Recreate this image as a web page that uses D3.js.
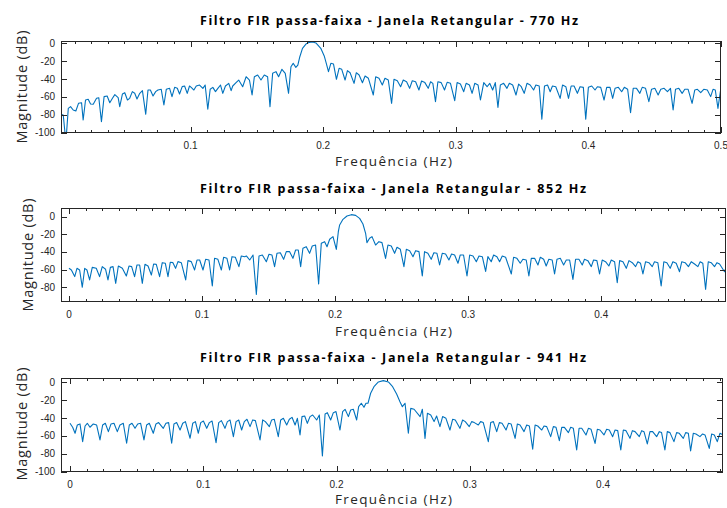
<!DOCTYPE html>
<html><head><meta charset="utf-8">
<script src="https://cdn.jsdelivr.net/npm/d3@7"></script>
<style>body{margin:0;background:#fff}svg{display:block}</style>
</head><body>
<script>
// Frequency response magnitude (dB) of three FIR band-pass filters (rectangular window), Fs = 4000 Hz, normalised frequency
const freq770 = [0.0023,0.0040,0.0053,0.0065,0.0078,0.0095,0.0115,0.0135,0.0155,0.0178,0.0190,0.0208,0.0228,0.0246,0.0266,0.0291,0.0308,0.0328,0.0348,0.0371,0.0391,0.0411,0.0429,0.0454,0.0466,0.0486,0.0504,0.0524,0.0541,0.0561,0.0579,0.0596,0.0617,0.0637,0.0662,0.0679,0.0697,0.0717,0.0737,0.0754,0.0779,0.0799,0.0817,0.0842,0.0860,0.0880,0.0900,0.0917,0.0937,0.0955,0.0975,0.0992,0.1005,0.1025,0.1043,0.1068,0.1093,0.1110,0.1130,0.1148,0.1168,0.1188,0.1206,0.1226,0.1243,0.1263,0.1288,0.1306,0.1318,0.1343,0.1363,
0.1393,0.1419,0.1444,0.1464,0.1481,0.1506,0.1531,0.1556,0.1581,0.1599,0.1619,0.1644,0.1664,0.1689,0.1714,0.1739,0.1757,0.1774,0.1794,0.1809,0.1824,0.1844,0.1870,0.1895,0.1920,0.1945,0.1982,0.2008,0.2023,0.2040,0.2058,0.2078,0.2100,0.2120,0.2140,0.2165,0.2183,0.2203,0.2233,0.2250,0.2271,0.2296,0.2316,0.2341,0.2378,0.2396,0.2421,0.2446,0.2466,0.2491,0.2516,0.2534,0.2559,0.2584,0.2604,0.2629,0.2652,0.2672,0.2697,0.2722,0.2742,0.2767,0.2792,0.2810,0.2827,0.2847,0.2865,0.2890,0.2915,0.2935,0.2960,0.2992,0.3010,0.3035,0.3060,0.3078,0.3103,0.3123,0.3143,0.3168,0.3186,0.3211,0.3236,
0.3256,0.3278,0.3298,0.3318,0.3336,0.3361,0.3386,0.3404,0.3429,0.3454,0.3474,0.3494,0.3516,0.3537,0.3561,0.3587,0.3604,0.3629,0.3649,0.3669,0.3692,0.3712,0.3729,0.3754,0.3787,0.3805,0.3830,0.3850,0.3870,0.3892,0.3917,0.3937,0.3962,0.3980,0.4000,0.4025,0.4050,0.4068,0.4093,0.4118,0.4138,0.4163,0.4183,0.4201,0.4226,0.4251,0.4271,0.4296,0.4318,0.4338,0.4363,0.4388,0.4406,0.4431,0.4456,0.4476,0.4501,0.4526,0.4546,0.4571,0.4596,0.4619,0.4639,0.4657,0.4682,0.4707,0.4727,0.4752,0.4782,0.4802,0.4822,0.4847,0.4870,0.4897,0.4922,0.4940,0.4957,0.4977,0.4997];
const mag770 = [-79.4,-80.2,-100,-100,-72.7,-70.8,-74.6,-75.7,-67.1,-66.4,-85.8,-63.4,-62.6,-67.9,-68.2,-61.5,-60.8,-87.6,-59.6,-58.9,-66.4,-61.5,-57.4,-60.8,-70.8,-56.7,-55.2,-63.4,-61.5,-54.0,-55.9,-62.3,-55.9,-52.9,-79.4,-52.2,-52.2,-58.9,-54.0,-52.2,-51.4,-69.0,-51.4,-50.3,-59.6,-49.2,-50.3,-56.7,-48.4,-47.7,-55.9,-47.7,-49.2,-52.2,-47.7,-46.6,-50.3,-46.6,-73.8,-51.4,-49.2,-54.0,-50.3,-46.6,-55.9,-47.7,-44.7,-52.9,-47.7,-43.9,-41.0,
-48.5,-37.3,-41.0,-57.8,-37.3,-35.4,-41.0,-35.4,-37.3,-70.9,-33.5,-31.6,-37.3,-29.0,-33.5,-55.9,-26.1,-22.3,-26.8,-24.2,-14.9,-5.5,-0.7,1.2,1.5,0.5,-5.5,-14.0,-22.0,-31.7,-22.3,-23.1,-40.2,-27.9,-29.0,-41.0,-30.5,-32.8,-44.7,-32.8,-35.4,-44.0,-36.5,-39.1,-57.8,-37.3,-39.1,-46.6,-39.1,-41.0,-67.1,-40.2,-41.8,-48.5,-41.0,-42.9,-50.3,-41.8,-42.9,-52.2,-42.1,-43.9,-50.3,-42.9,-44.7,-65.2,-42.9,-43.9,-52.2,-43.6,-44.7,-64.1,-43.9,-45.5,-54.1,-44.7,-46.6,-55.9,-44.7,-46.6,-63.4,-43.9,-48.5,
-44.7,-52.2,-43.9,-71.6,-46.6,-44.7,-50.3,-44.7,-46.6,-57.8,-45.5,-48.5,-55.9,-44.7,-46.6,-52.2,-46.6,-47.7,-85.0,-47.7,-46.6,-54.1,-47.7,-48.5,-61.5,-46.6,-48.5,-61.5,-47.7,-47.7,-55.9,-48.5,-49.2,-85.0,-49.2,-47.7,-52.2,-48.5,-49.2,-63.4,-49.2,-49.2,-61.5,-50.3,-49.2,-54.1,-49.2,-51.4,-77.6,-50.3,-50.3,-55.9,-49.2,-50.3,-65.2,-51.4,-50.3,-57.8,-51.4,-50.3,-54.1,-50.3,-74.6,-51.4,-50.3,-55.9,-51.4,-51.4,-67.1,-52.2,-51.4,-55.2,-51.4,-52.2,-59.6,-51.4,-52.2,-72.8,-52.2];

const freq852 = [0,0.0018,0.0043,0.0060,0.0080,0.0100,0.0118,0.0135,0.0155,0.0175,0.0205,0.0230,0.0250,0.0275,0.0293,0.0311,0.0331,0.0351,0.0371,0.0401,0.0431,0.0451,0.0471,0.0493,0.0511,0.0531,0.0551,0.0571,0.0594,0.0619,0.0636,0.0656,0.0681,0.0701,0.0724,0.0744,0.0761,0.0781,0.0801,0.0819,0.0844,0.0877,0.0894,0.0919,0.0944,0.0962,0.0982,0.1007,0.1027,0.1052,0.1077,0.1094,0.1119,0.1145,0.1162,0.1187,0.1207,0.1225,0.1250,0.1277,0.1295,0.1320,
0.1333,0.1358,0.1383,0.1408,0.1428,0.1453,0.1483,0.1503,0.1525,0.1545,0.1563,0.1588,0.1613,0.1633,0.1658,0.1683,0.1703,0.1723,0.1741,0.1758,0.1783,0.1808,0.1828,0.1853,0.1876,0.1896,0.1921,0.1939,0.1959,0.1984,0.2009,0.2024,0.2034,0.2059,0.2089,0.2122,0.2154,0.2184,0.2209,0.2229,0.2239,0.2259,0.2277,0.2304,0.2329,0.2352,0.2379,0.2397,0.2422,0.2447,0.2465,0.2490,0.2517,0.2535,0.2560,0.2585,0.2605,0.2630,0.2655,0.2672,0.2697,0.2722,0.2742,0.2765,0.2785,0.2805,0.2830,0.2855,0.2875,0.2898,0.2923,0.2940,0.2965,0.2991,0.3011,0.3036,0.3061,0.3081,0.3106,0.3131,
0.3148,0.3173,0.3191,0.3216,0.3236,0.3256,0.3281,0.3324,0.3341,0.3366,0.3391,0.3411,0.3436,0.3456,0.3474,0.3499,0.3524,0.3542,0.3567,0.3586,0.3606,0.3631,0.3649,0.3667,0.3692,0.3717,0.3737,0.3762,0.3787,0.3807,0.3832,0.3857,0.3874,0.3899,0.3925,0.3942,0.3967,0.3987,0.4007,0.4032,0.4057,0.4075,0.4100,0.4120,0.4138,0.4163,0.4188,0.4208,0.4233,0.4258,0.4275,0.4295,0.4313,0.4333,0.4358,0.4383,0.4400,0.4425,0.4450,0.4470,0.4493,0.4518,0.4538,0.4563,0.4588,0.4605,0.4630,0.4655,0.4676,0.4701,0.4726,0.4743,0.4763,0.4784,0.4804,0.4826,0.4851,0.4869,0.4889,0.4926,0.4944];
const mag852 = [-58.5,-60.4,-67.9,-58.5,-60.4,-80.0,-58.5,-60.4,-71.7,-57.4,-58.5,-67.9,-56.6,-59.6,-71.7,-57.4,-56.6,-75.5,-55.9,-58.5,-67.2,-55.9,-56.6,-67.9,-54.7,-54.7,-75.5,-54.0,-55.9,-66.1,-53.6,-54.0,-67.9,-52.1,-52.8,-67.9,-51.7,-52.1,-58.5,-50.9,-52.1,-71.7,-49.8,-50.9,-60.4,-49.1,-49.1,-60.4,-48.3,-49.1,-78.5,-47.2,-48.3,-60.4,-46.0,-47.2,-60.4,-45.3,-46.0,-56.6,-44.5,-45.3,
-44.5,-49.1,-43.4,-88.0,-44.5,-43.4,-51.0,-42.6,-43.4,-56.6,-41.5,-40.8,-48.3,-39.6,-39.6,-47.2,-37.7,-37.7,-56.6,-35.8,-34.0,-41.5,-33.2,-32.1,-76.3,-30.2,-28.3,-34.0,-25.6,-22.6,-37.0,-17.0,-9.4,-3.0,0.8,2.3,1.5,-1.9,-8.3,-18.8,-29.4,-24.5,-22.6,-32.1,-28.3,-29.4,-47.2,-32.1,-33.2,-41.5,-34.7,-37.0,-56.6,-37.0,-38.5,-45.3,-38.5,-39.6,-67.2,-39.6,-41.5,-48.3,-40.8,-41.5,-54.7,-41.5,-42.3,-49.1,-42.3,-43.4,-52.8,-43.4,-43.4,-67.2,-43.4,-44.5,-51.0,-44.5,-45.3,-62.0,
-45.3,-51.0,-43.4,-45.3,-51.0,-44.5,-46.0,-64.9,-46.0,-47.2,-52.8,-48.3,-49.1,-67.2,-47.2,-47.2,-54.7,-46.0,-48.3,-55.9,-48.3,-49.1,-64.9,-48.3,-47.2,-54.7,-49.1,-49.1,-71.0,-48.3,-48.3,-54.7,-48.3,-49.8,-56.6,-49.1,-49.8,-64.9,-49.1,-51.0,-55.9,-49.1,-51.0,-74.8,-49.8,-51.0,-58.5,-49.8,-52.1,-56.6,-51.0,-52.8,-64.9,-51.0,-52.1,-56.6,-51.0,-52.1,-78.5,-51.0,-52.1,-58.5,-51.0,-52.8,-62.3,-51.0,-52.1,-56.6,-51.0,-53.6,-56.6,-51.0,-52.8,-82.3,-51.0,-52.1,-56.6,-52.1,-53.6,-62.3,-54.7];

const freq941 = [0,0.0020,0.0038,0.0055,0.0075,0.0095,0.0113,0.0130,0.0150,0.0175,0.0200,0.0225,0.0245,0.0265,0.0288,0.0308,0.0330,0.0355,0.0375,0.0400,0.0425,0.0445,0.0465,0.0488,0.0508,0.0530,0.0555,0.0575,0.0595,0.0625,0.0645,0.0665,0.0700,0.0720,0.0740,0.0763,0.0780,0.0800,0.0826,0.0846,0.0866,0.0901,0.0921,0.0941,0.0963,0.0981,0.1001,0.1026,0.1046,0.1066,0.1096,0.1116,0.1136,0.1163,0.1181,0.1201,0.1226,0.1246,0.1266,0.1288,0.1308,0.1328,
0.1351,0.1371,0.1391,0.1426,0.1446,0.1466,0.1496,0.1513,0.1533,0.1563,0.1581,0.1601,0.1626,0.1646,0.1666,0.1689,0.1706,0.1726,0.1741,0.1761,0.1781,0.1801,0.1821,0.1851,0.1871,0.1894,0.1914,0.1931,0.1956,0.1976,0.1996,0.2026,0.2046,0.2064,0.2089,0.2106,0.2126,0.2151,0.2166,0.2186,0.2206,0.2221,0.2236,0.2256,0.2281,0.2314,0.2351,0.2389,0.2421,0.2451,0.2476,0.2494,0.2514,0.2539,0.2557,0.2582,0.2627,0.2644,0.2664,0.2682,0.2707,0.2732,0.2751,0.2776,0.2796,0.2821,0.2851,0.2871,0.2891,0.2926,0.2946,0.2966,0.2996,0.3014,0.3034,0.3064,0.3081,0.3101,0.3139,
0.3157,0.3177,0.3202,0.3222,0.3242,0.3272,0.3290,0.3310,0.3340,0.3357,0.3377,0.3407,0.3427,0.3447,0.3472,0.3490,0.3510,0.3540,0.3557,0.3577,0.3607,0.3627,0.3647,0.3672,0.3690,0.3710,0.3740,0.3757,0.3777,0.3802,0.3820,0.3840,0.3872,0.3890,0.3910,0.3940,0.3957,0.3977,0.4007,0.4027,0.4047,0.4072,0.4090,0.4110,0.4133,0.4152,0.4172,0.4202,0.4220,0.4240,0.4272,0.4290,0.4307,0.4332,0.4352,0.4372,0.4402,0.4422,0.4439,0.4464,0.4482,0.4502,0.4532,0.4552,0.4572,0.4602,0.4620,0.4640,0.4657,0.4677,0.4697,0.4727,0.4747,0.4765,0.4797,0.4815,0.4835,0.4857,0.4877,0.4902,0.4927];
const mag941 = [-45.9,-50.3,-57.0,-47.8,-46.6,-66.4,-48.9,-45.9,-50.3,-46.6,-47.8,-64.5,-47.8,-45.9,-55.2,-46.6,-45.9,-55.2,-47.8,-45.9,-68.2,-47.8,-45.9,-51.5,-46.6,-45.9,-64.5,-47.8,-45.9,-57.0,-46.6,-45.1,-51.5,-45.9,-45.1,-68.2,-46.6,-45.1,-53.4,-45.9,-44.0,-62.6,-45.9,-44.0,-57.0,-45.1,-43.3,-51.5,-45.1,-43.3,-67.5,-45.1,-42.9,-51.5,-44.0,-42.2,-60.8,-44.0,-42.2,-53.4,-44.0,-41.4,
-49.6,-42.1,-42.9,-64.5,-42.1,-44.0,-49.6,-42.1,-41.4,-60.8,-42.1,-40.3,-47.8,-41.4,-39.2,-47.8,-40.3,-58.9,-38.4,-37.7,-45.9,-38.4,-36.6,-42.2,-36.6,-82.4,-35.5,-34.0,-42.2,-34.0,-32.8,-53.4,-32.8,-30.2,-38.4,-31.0,-30.2,-42.2,-27.3,-23.5,-28.0,-23.5,-23.5,-12.3,-4.9,0.3,1.8,0.3,-4.9,-13.1,-21.7,-27.3,-23.5,-57.0,-29.2,-30.2,-38.4,-30.2,-62.7,-34.7,-36.6,-44.0,-37.7,-49.6,-38.4,-40.3,-53.4,-41.4,-42.2,-51.5,-42.2,-44.0,-49.6,-44.0,-45.1,-47.8,-44.0,-45.1,-66.4,
-45.1,-44.0,-55.2,-45.1,-45.9,-53.4,-45.9,-46.6,-62.7,-46.6,-47.8,-55.2,-47.8,-48.9,-74.9,-47.8,-48.9,-53.4,-48.9,-49.6,-60.8,-49.6,-50.4,-65.3,-50.4,-50.4,-56.3,-50.4,-51.5,-75.7,-51.5,-51.5,-58.9,-51.5,-52.6,-68.3,-52.6,-53.4,-58.9,-52.6,-53.4,-60.8,-53.4,-54.1,-75.7,-53.4,-54.1,-62.7,-54.1,-55.2,-60.8,-54.1,-55.2,-69.0,-55.2,-55.2,-60.8,-55.2,-56.3,-75.7,-55.2,-56.3,-66.4,-56.3,-57.1,-62.7,-56.3,-57.1,-76.8,-57.1,-57.8,-60.8,-57.8,-58.9,-73.9,-57.8,-58.9,-66.4,-57.1,-58.9,-60.8];

const xTickValues = [0, 0.1, 0.2, 0.3, 0.4, 0.5];
const xTickLabels = ["0", "0.1", "0.2", "0.3", "0.4", "0.5"];
const yTicks100 = [-100, -80, -60, -40, -20, 0];
const yTicks80 = [-80, -60, -40, -20, 0];
const toneHz = [770, 852, 941];

const W = 727, H = 508;
const axisColor = "#262626", lineColor = "#0072BD";
const svg = d3.select("body").append("svg").attr("width", W).attr("height", H);

const panels = [
  {tone: toneHz[0], freq: freq770, mag: mag770, xr: [61, 721], yr: [132.7, 41], xd: [0.0023, 0.5], yd: [-100, 2.7], yt: yTicks100,
   titleX: 389, titleY: 25, titleLen: 378, ylabX: 21, ylabY: 87, xlabY: 166},
  {tone: toneHz[1], freq: freq852, mag: mag852, xr: [61, 725.7], yr: [302.3, 208.3], xd: [-0.006, 0.4935], yd: [-97, 9.5], yt: yTicks80,
   titleX: 393, titleY: 193, titleLen: 386, ylabX: 27, ylabY: 255, xlabY: 336},
  {tone: toneHz[2], freq: freq941, mag: mag941, xr: [61, 723], yr: [471.7, 377.7], xd: [-0.00675, 0.49], yd: [-100, 5.1], yt: yTicks100,
   titleX: 393, titleY: 362, titleLen: 386, ylabX: 21, ylabY: 424, xlabY: 504}
];

panels.forEach((p, i) => {
  const x = d3.scaleLinear().domain(p.xd).range(p.xr);
  const y = d3.scaleLinear().domain(p.yd).range(p.yr);
  const g = svg.append("g");
  const [x0, x1] = p.xr, [y1, y0] = p.yr;

  const clipId = "clip" + i;
  svg.append("clipPath").attr("id", clipId).append("rect")
    .attr("x", x0).attr("y", y0).attr("width", x1 - x0).attr("height", y1 - y0);

  // response curve
  const pts = p.freq.map((f, k) => [f, p.mag[k]]);
  g.append("path").datum(pts)
    .attr("clip-path", `url(#${clipId})`)
    .attr("fill", "none").attr("stroke", lineColor).attr("stroke-width", 1.1)
    .attr("stroke-linejoin", "round")
    .attr("d", d3.line().x(d => x(d[0])).y(d => y(d[1])));

  // ticks (inside the box on all four sides)
  const xMajor = xTickValues.filter(v => v >= p.xd[0] - 1e-9 && v <= p.xd[1] + 1e-9);
  const xMinor = d3.range(0, 0.5001, 0.0125).filter(v => v >= p.xd[0] && v <= p.xd[1] && !xMajor.some(m => Math.abs(m - v) < 1e-6));
  const tk = g.append("g").attr("stroke", axisColor).attr("stroke-width", 1).attr("shape-rendering", "crispEdges");
  xMajor.forEach(v => {
    const px = Math.round(x(v)) + 0.5;
    tk.append("line").attr("x1", px).attr("x2", px).attr("y1", y1).attr("y2", y1 - 6);
    tk.append("line").attr("x1", px).attr("x2", px).attr("y1", y0).attr("y2", y0 + 6);
  });
  xMinor.forEach(v => {
    const px = Math.round(x(v)) + 0.5;
    tk.append("line").attr("x1", px).attr("x2", px).attr("y1", y1).attr("y2", y1 - 3);
    tk.append("line").attr("x1", px).attr("x2", px).attr("y1", y0).attr("y2", y0 + 3);
  });
  p.yt.forEach(v => {
    const py = Math.round(y(v)) + 0.5;
    tk.append("line").attr("x1", x0).attr("x2", x0 + 6).attr("y1", py).attr("y2", py);
    tk.append("line").attr("x1", x1).attr("x2", x1 - 6).attr("y1", py).attr("y2", py);
  });

  // box
  g.append("rect").attr("x", x0 + 0.5).attr("y", y0 + 0.5)
    .attr("width", x1 - x0 - 1).attr("height", y1 - y0 - 1)
    .attr("fill", "none").attr("stroke", axisColor).attr("stroke-width", 1).attr("shape-rendering", "crispEdges");

  // tick labels
  const lab = g.append("g").attr("font-family", "Liberation Sans, Arial, sans-serif").attr("font-size", 10).attr("fill", axisColor);
  xMajor.forEach(v => {
    lab.append("text").attr("x", x(v)).attr("y", y1 + 16).attr("text-anchor", "middle")
      .text(xTickLabels[xTickValues.indexOf(v)]);
  });
  p.yt.forEach(v => {
    lab.append("text").attr("x", 55).attr("y", y(v) + 3.5).attr("text-anchor", "end").text(v);
  });

  // title
  g.append("text").attr("x", p.titleX).attr("y", p.titleY).attr("text-anchor", "middle")
    .attr("font-family", "Open Sans, Liberation Sans, sans-serif").attr("font-weight", "bold").attr("font-size", 12.5)
    .attr("fill", "#000").attr("textLength", p.titleLen).attr("lengthAdjust", "spacing")
    .text(`Filtro FIR passa-faixa - Janela Retangular - ${p.tone} Hz`);

  // axis labels
  g.append("text").attr("transform", `translate(${p.ylabX},${p.ylabY}) rotate(-90)`)
    .attr("text-anchor", "middle").attr("dominant-baseline", "central")
    .attr("font-family", "Open Sans, Liberation Sans, sans-serif").attr("font-size", 14.5).attr("fill", axisColor)
    .attr("textLength", 113).attr("lengthAdjust", "spacing")
    .text("Magnitude (dB)");
  g.append("text").attr("x", 393.5).attr("y", p.xlabY).attr("text-anchor", "middle")
    .attr("font-family", "Open Sans, Liberation Sans, sans-serif").attr("font-size", 13.5).attr("fill", axisColor)
    .attr("textLength", 117).attr("lengthAdjust", "spacing")
    .text("Frequência (Hz)");
});
</script>
</body></html>
